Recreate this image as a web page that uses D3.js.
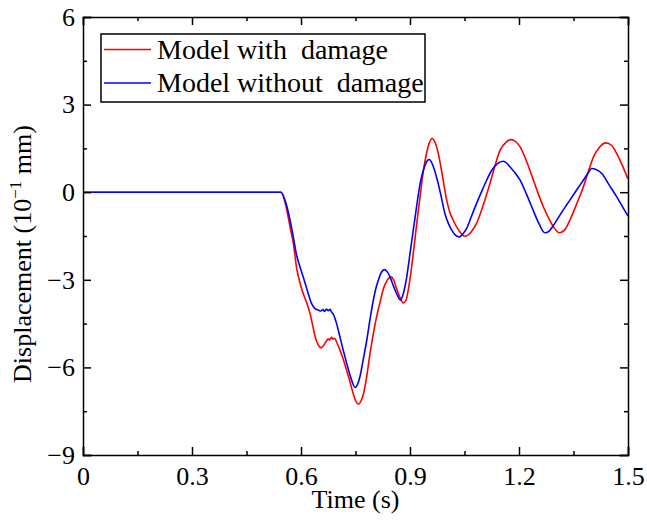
<!DOCTYPE html>
<html>
<head>
    <meta charset="utf-8">
    <title>Displacement response</title>
    <script src="https://d3js.org/d3.v7.min.js"></script>
    <style>
        body { margin: 0; background: #fff; }
        svg { display: block; }
        text { font-family: "Liberation Serif", "Times New Roman", serif; fill: #000; }
        .axis path, .axis line { stroke: #000; stroke-width: 1.5px; }
        .axis text { font-size: 26px; }
        .curve { fill: none; stroke-width: 1.6px; stroke-linejoin: round; }
    </style>
</head>
<body>
    <svg></svg>
    <script>
        // Time (s) and displacement (10^-1 mm), model with damage
        const tWith = [0, 0.545, 0.558, 0.57, 0.579, 0.588, 0.597, 0.606, 0.616, 0.625, 0.632, 0.639, 0.647, 0.655, 0.662, 0.667, 0.671, 0.675, 0.679, 0.684, 0.688, 0.692, 0.698, 0.707, 0.717, 0.726, 0.735, 0.745, 0.752, 0.758, 0.765, 0.772, 0.781, 0.79, 0.799, 0.808, 0.818, 0.827, 0.837, 0.847, 0.855, 0.863, 0.873, 0.882, 0.889, 0.895, 0.902, 0.909, 0.916, 0.923, 0.93, 0.937, 0.945, 0.953, 0.961, 0.969, 0.978, 0.99, 1.001, 1.01, 1.019, 1.035, 1.051, 1.067, 1.083, 1.1, 1.12, 1.135, 1.148, 1.165, 1.18, 1.192, 1.203, 1.217, 1.23, 1.248, 1.267, 1.282, 1.295, 1.311, 1.325, 1.34, 1.358, 1.377, 1.392, 1.405, 1.422, 1.439, 1.455, 1.469, 1.485, 1.5];
        const dWith = [0, 0, -0.45, -1.2, -1.75, -2.6, -3.1, -3.47, -3.8, -4.16, -4.55, -4.95, -5.22, -5.33, -5.25, -5.15, -5.08, -5.02, -5.06, -4.97, -5.03, -5.0, -5.13, -5.4, -5.75, -6.12, -6.5, -6.95, -7.18, -7.26, -7.15, -6.9, -6.3, -5.52, -4.85, -4.27, -3.75, -3.3, -3.02, -2.9, -3.0, -3.3, -3.62, -3.79, -3.7, -3.36, -2.8, -2.1, -1.35, -0.62, 0.08, 0.75, 1.3, 1.68, 1.84, 1.7, 1.32, 0.5, -0.27, -0.7, -0.96, -1.32, -1.51, -1.38, -1.07, -0.5, 0.3, 0.95, 1.44, 1.72, 1.8, 1.72, 1.55, 1.18, 0.75, 0.12, -0.5, -0.9, -1.19, -1.39, -1.3, -0.96, -0.42, 0.18, 0.75, 1.21, 1.55, 1.69, 1.6, 1.32, 0.9, 0.45];

        // model without damage
        const tWithout = [0, 0.545, 0.558, 0.57, 0.579, 0.588, 0.597, 0.606, 0.617, 0.629, 0.638, 0.648, 0.655, 0.66, 0.665, 0.67, 0.675, 0.68, 0.684, 0.689, 0.698, 0.707, 0.716, 0.726, 0.737, 0.749, 0.755, 0.762, 0.771, 0.781, 0.79, 0.799, 0.806, 0.813, 0.821, 0.829, 0.837, 0.845, 0.854, 0.863, 0.874, 0.882, 0.891, 0.9, 0.909, 0.918, 0.928, 0.938, 0.946, 0.953, 0.962, 0.973, 0.985, 0.996, 1.005, 1.015, 1.025, 1.036, 1.046, 1.056, 1.07, 1.083, 1.097, 1.111, 1.125, 1.14, 1.157, 1.166, 1.175, 1.19, 1.203, 1.22, 1.239, 1.255, 1.271, 1.283, 1.295, 1.317, 1.34, 1.36, 1.377, 1.39, 1.4, 1.412, 1.428, 1.448, 1.469, 1.485, 1.5];
        const dWithout = [0, 0, -0.35, -0.96, -1.55, -2.16, -2.55, -2.9, -3.35, -3.81, -3.98, -4.04, -4.07, -4.02, -4.08, -4.0, -4.06, -4.01, -4.1, -4.18, -4.5, -4.95, -5.4, -5.87, -6.35, -6.69, -6.6, -6.33, -5.75, -5.07, -4.35, -3.7, -3.3, -3.01, -2.75, -2.65, -2.72, -2.9, -3.2, -3.47, -3.7, -3.45, -2.9, -2.1, -1.3, -0.5, 0.3, 0.8, 1.05, 1.12, 0.95, 0.52, -0.1, -0.73, -1.05, -1.3, -1.47, -1.53, -1.42, -1.24, -0.8, -0.39, 0.02, 0.41, 0.75, 0.97, 1.06, 1.0, 0.87, 0.65, 0.41, -0.05, -0.62, -1.08, -1.39, -1.33, -1.13, -0.7, -0.27, 0.1, 0.41, 0.65, 0.81, 0.78, 0.64, 0.25, -0.16, -0.5, -0.82];

        const xTicks = [0, 0.3, 0.6, 0.9, 1.2, 1.5];
        const yTicks = [-9, -6, -3, 0, 3, 6];
        const xMinor = [0.15, 0.45, 0.75, 1.05, 1.35];
        const yMinor = [-7.5, -4.5, -1.5, 1.5, 4.5];
        const seriesNames = ["Model with\u00a0 damage", "Model without\u00a0 damage"];
        const seriesColors = ["#ff0000", "#0000ff"];

        const width = 647, height = 521;
        const margin = { top: 17, right: 19, bottom: 66, left: 83 };
        const iw = width - margin.left - margin.right;
        const ih = height - margin.top - margin.bottom;

        const svg = d3.select("svg").attr("width", width).attr("height", height);
        const g = svg.append("g").attr("transform", `translate(${margin.left},${margin.top})`);

        const x = d3.scaleLinear().domain([0, 1.5]).range([0, iw]);
        const y = d3.scaleLinear().domain([-9, 6]).range([ih, 0]);

        const fmtY = d => (d < 0 ? "\u2212" + Math.abs(d) : String(d));

        // curves
        const line = d3.line().x(d => x(d[0])).y(d => y(d[1])).curve(d3.curveMonotoneX);
        const series = [d3.zip(tWith, dWith), d3.zip(tWithout, dWithout)];
        g.selectAll(".curve")
            .data(series)
            .join("path")
            .attr("class", "curve")
            .attr("stroke", (d, i) => seriesColors[i])
            .attr("d", line);

        // axes with inward ticks on all four sides
        g.append("g").attr("class", "axis").attr("transform", `translate(0,${ih})`)
            .call(d3.axisBottom(x).tickValues(xTicks).tickSize(-8).tickPadding(12).tickFormat(d3.format("")))
            .call(a => a.selectAll("text").attr("dy", "0.71em"));
        g.append("g").attr("class", "axis").attr("transform", `translate(0,${ih})`)
            .call(d3.axisBottom(x).tickValues(xMinor).tickSize(-4).tickFormat(""))
            .call(a => a.select(".domain").remove());
        g.append("g").attr("class", "axis")
            .call(d3.axisTop(x).tickValues(xTicks).tickSize(-8).tickFormat(""));
        g.append("g").attr("class", "axis")
            .call(d3.axisTop(x).tickValues(xMinor).tickSize(-4).tickFormat(""))
            .call(a => a.select(".domain").remove());

        g.append("g").attr("class", "axis")
            .call(d3.axisLeft(y).tickValues(yTicks).tickSize(-8).tickPadding(8).tickFormat(fmtY));
        g.append("g").attr("class", "axis")
            .call(d3.axisLeft(y).tickValues(yMinor).tickSize(-4).tickFormat(""))
            .call(a => a.select(".domain").remove());
        g.append("g").attr("class", "axis").attr("transform", `translate(${iw},0)`)
            .call(d3.axisRight(y).tickValues(yTicks).tickSize(-8).tickFormat(""));
        g.append("g").attr("class", "axis").attr("transform", `translate(${iw},0)`)
            .call(d3.axisRight(y).tickValues(yMinor).tickSize(-4).tickFormat(""))
            .call(a => a.select(".domain").remove());

        g.selectAll(".axis path.domain").attr("stroke-linecap", "square");

        // axis titles
        svg.append("text")
            .attr("x", margin.left + iw / 2)
            .attr("y", 508)
            .attr("text-anchor", "middle")
            .style("font-size", "26px")
            .text("Time (s)");

        const yTitle = svg.append("text")
            .attr("transform", `translate(31,${margin.top + ih / 2 + 18}) rotate(-90)`)
            .attr("text-anchor", "middle")
            .style("font-size", "26px");
        yTitle.append("tspan").text("Displacement (10");
        yTitle.append("tspan").attr("dy", -10).style("font-size", "17px").text("\u22121");
        yTitle.append("tspan").attr("dy", 10).text("\u00a0mm)");

        // legend
        const legend = svg.append("g").attr("transform", "translate(101,34)");
        legend.append("rect")
            .attr("width", 324).attr("height", 68)
            .attr("fill", "#fff").attr("stroke", "#000").attr("stroke-width", 1.5);
        seriesNames.forEach((name, i) => {
            const ly = 15.5 + i * 33.5;
            legend.append("line")
                .attr("x1", 3).attr("x2", 50).attr("y1", ly).attr("y2", ly)
                .attr("stroke", seriesColors[i]).attr("stroke-width", 1.6);
            legend.append("text")
                .attr("x", 56).attr("y", ly + 9)
                .style("font-size", "28px")
                .text(name);
        });
    </script>
</body>
</html>
